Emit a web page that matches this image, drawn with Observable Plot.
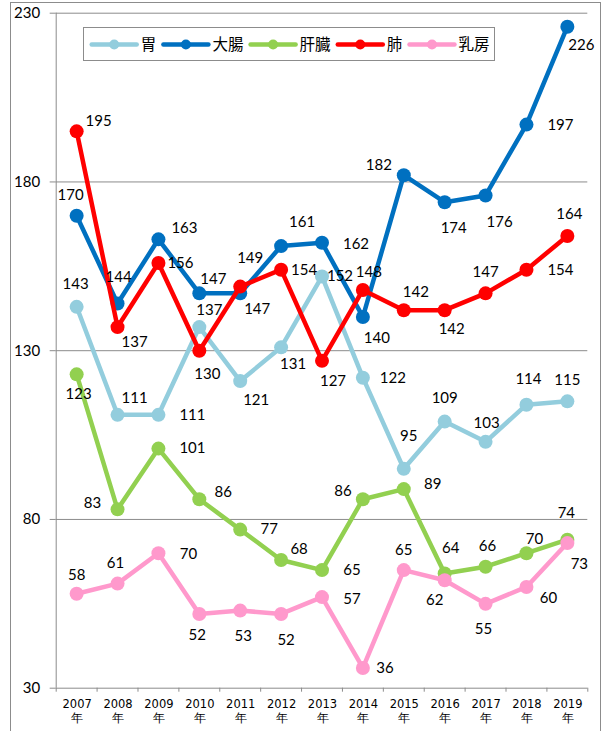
<!DOCTYPE html>
<html><head><meta charset="utf-8">
<script src="https://cdn.jsdelivr.net/npm/d3@7"></script>
<script src="https://cdn.jsdelivr.net/npm/@observablehq/plot@0.6"></script>
<style>
body{margin:0;background:#fff;}
#chart{position:relative;width:603px;height:731px;overflow:hidden;}
#chart > svg{position:absolute;left:0;top:0;}
#frame{position:absolute;left:10px;top:2px;width:589px;height:800px;border:1px solid #8c8c8c;pointer-events:none;}
#legend{position:absolute;left:83px;top:27px;width:410px;height:32px;border:1px solid #8c8c8c;background:#fff;}
</style></head><body><div id="chart"><div id="frame"></div></div>
<script>
const years = [2007,2008,2009,2010,2011,2012,2013,2014,2015,2016,2017,2018,2019];
const yTicks = [30,80,130,180,230];
const seriesNames = ["胃","大腸","肝臓","肺","乳房"];
const stomach = [143,111,111,137,121,131,152,122,95,109,103,114,115];
const colon   = [170,144,163,147,147,161,162,140,182,174,176,197,226];
const liver   = [123,83,101,86,77,68,65,86,89,64,66,70,74];
const lung    = [195,137,156,130,149,154,127,148,142,142,147,154,164];
const breast  = [58,61,70,52,53,52,57,36,65,62,55,60,73];
const colors = ["#93CDDD","#0070C0","#92D050","#FF0000","#FF99CC"];

// label placement (pixel offsets from each point), style only
const stomachLabelOffsets = [[-1,-23],[17,-17],[34,0],[10,-17],[16,19],[12,17],[18,0],[30,0],[5,-33],[0,-23],[1,-19],[2,-26],[0,-21]];
const colonLabelOffsets   = [[-6,-21],[1,-26],[26,-11],[14,-14],[17,16],[21,-24],[34,1],[14,21],[-25,-10],[9,26],[14,27],[34,1],[14,18]];
const liverLabelOffsets   = [[2,20],[-25,-6],[34,0],[24,-7],[29,0],[18,-11],[30,0],[-20,-8],[29,-5],[6,-25],[2,-21],[8,-14],[-1,-27]];
const lungLabelOffsets    = [[22,-10],[17,15],[22,0],[8,23],[10,-28],[23,0],[11,20],[6,-18],[12,-18],[7,19],[0,-21],[34,0],[2,-22]];
const breastLabelOffsets  = [[0,-19],[-2,-20],[30,1],[-2,21],[3,26],[5,26],[30,2],[22,0],[0,-20],[-10,20],[-2,25],[22,11],[12,21]];

const seriesValues = [stomach, colon, liver, lung, breast];
const seriesOffsets = [stomachLabelOffsets, colonLabelOffsets, liverLabelOffsets, lungLabelOffsets, breastLabelOffsets];

const rows = seriesNames.map((name, s) => years.map((year, i) => ({
  name, year, value: seriesValues[s][i], dx: seriesOffsets[s][i][0], dy: seriesOffsets[s][i][1]
})));

const boundaries = d3.range(years.length + 1).map(i => years[0] - 0.5 + i);

const marks = [
  Plot.ruleY(yTicks, {stroke: "#8c8c8c", strokeWidth: 1}),
  Plot.ruleX([years[0] - 0.5], {stroke: "#8c8c8c", strokeWidth: 1}),
  Plot.axisY(yTicks, {tickSize: 6, tickPadding: 10, fontSize: 15, stroke: "#8c8c8c", fill: "#000", label: null, tickFormat: d => String(d)}),
  Plot.axisX(boundaries, {tickSize: 4, tickFormat: () => "", stroke: "#8c8c8c", label: null}),
  Plot.text(years, {x: d => d, y: yTicks[0], text: d => `${d}\n年`, dx: 0.5, dy: 22.5, lineHeight: 1.17, fontSize: 11.5, fontFamily: "DejaVu Sans", fill: "#000", ariaLabel: "year-labels"})
];
rows.forEach((data, s) => {
  marks.push(Plot.line(data, {x: "year", y: "value", stroke: colors[s], strokeWidth: 4.5, strokeLinejoin: "round"}));
  marks.push(Plot.dot(data, {x: "year", y: "value", r: 7, fill: colors[s], stroke: "none"}));
});
rows.forEach((data) => {
  data.forEach(d => {
    marks.push(Plot.text([d], {x: "year", y: "value", text: d => String(d.value), dx: d.dx, dy: d.dy, fontSize: 15, fill: "#000"}));
  });
});

const plot = Plot.plot({
  width: 603, height: 731,
  marginLeft: 55.7, marginRight: 15.7, marginTop: 12.7, marginBottom: 43.3,
  x: {type: "linear", domain: [years[0] - 0.5, years[years.length - 1] + 0.5]},
  y: {domain: [yTicks[0], yTicks[yTicks.length - 1]]},
  style: {fontFamily: "Lato", background: "transparent", overflow: "visible", color: "#000"},
  marks
});
const chart = document.getElementById("chart");
chart.insertBefore(plot, chart.firstChild);
d3.select(plot).selectAll('g[aria-label="year-labels"] text').style("letter-spacing", "0.9px");

// legend
const legend = d3.select(chart).append("div").attr("id", "legend");
const lsvg = legend.append("svg").attr("width", 410).attr("height", 32)
  .style("position", "absolute").style("left", "0px").style("top", "0px").style("overflow", "visible");
let lx = 7.7;
seriesNames.forEach((name, s) => {
  const g = lsvg.append("g");
  g.append("line").attr("x1", lx).attr("x2", lx + 45).attr("y1", 16.5).attr("y2", 16.5)
    .attr("stroke", colors[s]).attr("stroke-width", 4.5).attr("stroke-linecap", "round");
  g.append("circle").attr("cx", lx + 22.5).attr("cy", 16.5).attr("r", 5).attr("fill", colors[s]);
  g.append("text").attr("x", lx + 49).attr("y", 16.5).attr("dy", "0.36em")
    .attr("font-family", "Noto Sans CJK JP").attr("font-size", 15.5).attr("fill", "#000").text(name);
  lx += 45 + 4 + 15.5 * name.length + 7.2;
});
</script></body></html>
